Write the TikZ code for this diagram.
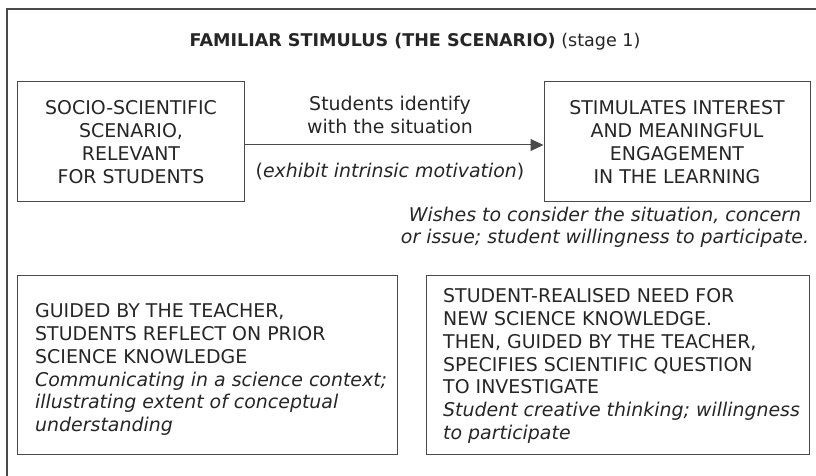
\documentclass[tikz,border=0pt]{standalone}
\usepackage{fontspec}
\setmainfont{DejaVu Sans}
\usetikzlibrary{arrows.meta}
\definecolor{ink}{HTML}{262626}
\definecolor{rule}{HTML}{4A4A4A}
\begin{document}
\begin{tikzpicture}[x=1bp,y=-1bp,
  every node/.style={text=ink,font=\fontsize{19}{23}\selectfont},
  boxc/.style={draw=rule,line width=1bp,minimum width=#1,align=center,inner sep=0pt},
  frame/.style={draw=rule,line width=1bp,minimum width=#1,inner sep=0pt},
  lbl/.style={align=center,inner sep=0pt},
  lft/.style={align=left,inner sep=0pt,anchor=west}]
\useasboundingbox (0,0) rectangle (816,476);
\fill[white] (0,0) rectangle (816,476);
\draw[rule,line width=1.5bp] (7,476) -- (7,9) -- (816,9);
\node[lbl,font=\fontsize{17.6}{21}\selectfont] (title) at (415,42) {\textbf{FAMILIAR STIMULUS (THE SCENARIO)} (stage 1)};
\node[boxc=226bp,minimum height=120bp] (b1) at (131,142)
  {SOCIO-SCIENTIFIC\\SCENARIO,\\RELEVANT\\FOR STUDENTS};
\node[boxc=266bp,minimum height=120bp] (b2) at (677,142)
  {STIMULATES INTEREST\\AND MEANINGFUL\\ENGAGEMENT\\IN THE LEARNING};
\coordinate (ay) at (0,145);
\draw[rule,line width=1bp,-{Triangle[length=13bp,width=12bp]}] (b1.east|-ay) -- (b2.west|-ay);
\node[lbl] (l1) at (390,114.5) {Students identify\\with the situation};
\node[lbl] (l2) at (390,172) {(\textit{exhibit intrinsic motivation})};
\node[lbl,font=\fontsize{19}{22.5}\selectfont\itshape] (note) at (605,227.5)
  {Wishes to consider the situation, concern\\or issue; student willingness to participate.};
\node[frame=379bp,minimum height=178bp] (b3) at (207.5,365) {};
\node[lft] (t3) at (35,369.5)
  {GUIDED BY THE TEACHER,\\STUDENTS REFLECT ON PRIOR\\SCIENCE KNOWLEDGE\\
   \textit{Communicating in a science context;}\\\textit{illustrating extent of conceptual}\\\textit{understanding}};
\node[frame=383bp,minimum height=178bp] (b4) at (617.5,365) {};
\node[lft] (t4) at (443,366)
  {STUDENT-REALISED NEED FOR\\NEW SCIENCE KNOWLEDGE.\\THEN, GUIDED BY THE TEACHER,\\SPECIFIES SCIENTIFIC QUESTION\\TO INVESTIGATE\\
   \textit{Student creative thinking; willingness}\\\textit{to participate}};
\end{tikzpicture}
\end{document}
